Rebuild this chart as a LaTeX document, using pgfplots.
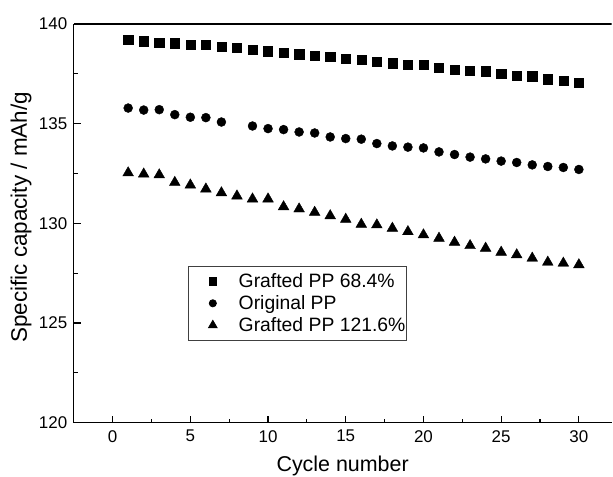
\documentclass[border=0pt]{standalone}
\usepackage{fontspec}
\setmainfont{Liberation Sans}
\usepackage{pgfplots}
\pgfplotsset{compat=1.18}
\usetikzlibrary{calc}

\begin{document}
\begin{tikzpicture}
  \begin{axis}[
      scale only axis,
      width=539.4pt, height=400pt,
      xmin=-2.5, xmax=32.1,
      ymin=120, ymax=140,
      axis x line*=bottom,
      axis y line*=left,
      axis line style={-, line width=1.2pt},
      xtick={0,5,...,30},
      ytick={120,125,...,140},
      minor tick num=1,
      tick align=inside,
      major tick length=7pt,
      minor tick length=4pt,
      tick style={line width=1.1pt, black},
      /pgf/number format/assume math mode=true,
      ticklabel style={font=\fontsize{17}{17}\selectfont},
      xticklabel style={yshift=-4pt},
      yticklabel style={xshift=-3pt},
      xlabel={Cycle number},
      ylabel={Specific capacity / mAh/g},
      xlabel style={font=\fontsize{21.5}{21.5}\selectfont,
        at={(axis description cs:0.5,-0.1225)}, anchor=base},
      ylabel style={font=\fontsize{22.5}{22.5}\selectfont,
        at={(axis description cs:-0.0872,0.515)}, anchor=base},
      legend cell align=left,
      legend image code/.code={
        \path[draw=none, fill=none] (0pt,0pt) -- (50pt,0pt);
        \draw[#1, mark options={scale=0.8}] plot coordinates {(25pt,0pt)};
      },
      legend style={at={(axis description cs:0.2115,0.3925)}, anchor=north west,
        draw=black!75, line width=0.8pt,
        font=\fontsize{19.4}{19.4}\selectfont,
        inner xsep=0pt, inner ysep=5pt, row sep=2.5pt,
        nodes={inner xsep=1pt}},
    ]
    % Grafted PP 68.4%
    \addplot[only marks, mark=square*, mark size=4.6pt, black] coordinates {
      (1,139.22) (2,139.13) (3,139.07) (4,139.03) (5,138.97)
      (6,138.95) (7,138.87) (8,138.80) (9,138.72) (10,138.63)
      (11,138.55) (12,138.48) (13,138.42) (14,138.35) (15,138.25)
      (16,138.20) (17,138.12) (18,138.03) (19,137.97) (20,137.95)
      (21,137.80) (22,137.70) (23,137.65) (24,137.63) (25,137.50)
      (26,137.42) (27,137.38) (28,137.23) (29,137.15) (30,137.07)
    };
    \addlegendentry{Grafted PP 68.4\%}
    % Original PP (no point at cycle 8)
    \addplot[only marks, mark=*, mark size=4.5pt, black] coordinates {
      (1,135.78) (2,135.68) (3,135.70) (4,135.45) (5,135.32)
      (6,135.30) (7,135.08) (9,134.88) (10,134.75)
      (11,134.70) (12,134.58) (13,134.53) (14,134.33) (15,134.25)
      (16,134.22) (17,134.00) (18,133.88) (19,133.82) (20,133.78)
      (21,133.58) (22,133.45) (23,133.32) (24,133.23) (25,133.12)
      (26,133.05) (27,132.93) (28,132.85) (29,132.80) (30,132.70)
    };
    \addlegendentry{Original PP}
    % Grafted PP 121.6%
    \addplot[only marks, mark=triangle*, mark size=6.2pt, black] coordinates {
      (1,132.53) (2,132.47) (3,132.43) (4,132.05) (5,131.92)
      (6,131.72) (7,131.53) (8,131.37) (9,131.22) (10,131.22)
      (11,130.83) (12,130.72) (13,130.55) (14,130.38) (15,130.20)
      (16,129.95) (17,129.92) (18,129.75) (19,129.58) (20,129.42)
      (21,129.25) (22,129.05) (23,128.88) (24,128.75) (25,128.55)
      (26,128.42) (27,128.25) (28,128.05) (29,128.00) (30,127.92)
    };
    \addlegendentry{Grafted PP 121.6\%}
    \draw[line width=1.2pt] (rel axis cs:0,1) -- (rel axis cs:1,1);
    \coordinate (bl) at (rel axis cs:0,0);
    \coordinate (tr) at (rel axis cs:1,1);
  \end{axis}
  \pgfresetboundingbox
  \path[use as bounding box] ($(bl)+(-74pt,-54pt)$) rectangle ($(tr)+(1.5pt,24pt)$);
\end{tikzpicture}
\end{document}
